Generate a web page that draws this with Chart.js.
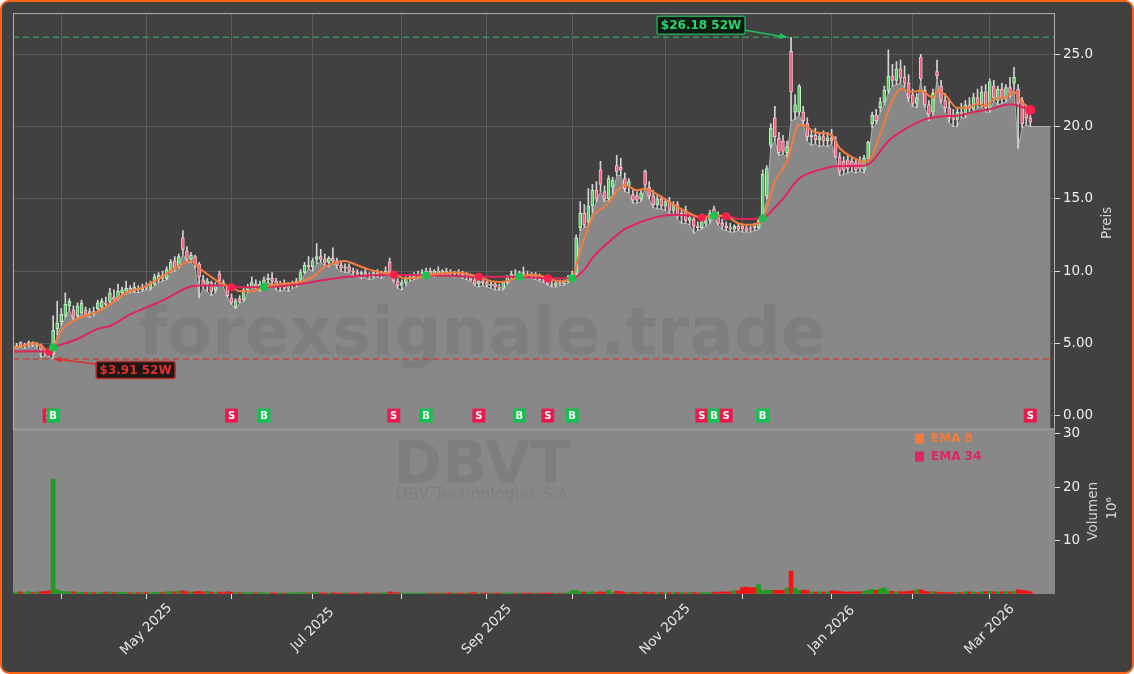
<!DOCTYPE html>
<html><head><meta charset="utf-8">
<script src="https://cdn.jsdelivr.net/npm/chart.js@4.4.1/dist/chart.umd.min.js"></script>
<style>
html,body{margin:0;padding:0;background:#ffffff;}
#wrap{position:absolute;left:0;top:0;width:1134px;height:674px;box-sizing:border-box;border:2px solid #fa6412;border-radius:9px;background:#414141;overflow:hidden;}
#c{position:absolute;left:0;top:0;width:1130px;height:670px;}
</style></head><body>
<div id="wrap"><canvas id="c" width="1130" height="670"></canvas></div>
<script>
// ---- data (trading-day index 0 = mid March 2025) ----
const open = [4.70,4.75,5.05,4.80,4.85,5.05,4.85,4.90,4.55,4.35,
4.25,6.00,6.50,6.90,7.60,7.30,6.90,7.10,7.30,7.00,
7.20,7.40,7.50,7.80,7.90,8.20,8.10,8.50,8.60,8.80,
8.60,8.80,8.70,8.90,8.80,9.10,9.40,9.70,9.50,10.00,
10.70,10.30,12.30,11.40,10.80,11.00,10.50,9.40,9.10,9.20,
8.70,9.80,9.20,8.90,8.15,7.50,8.10,8.00,8.70,8.85,
9.10,8.90,9.10,9.40,9.50,9.30,8.90,9.10,8.80,9.00,
9.10,9.30,9.90,10.40,10.30,10.80,11.00,10.80,10.60,10.90,
10.70,10.40,10.20,10.30,10.00,9.90,9.80,9.90,9.70,9.60,
9.90,9.70,9.80,10.60,9.90,9.30,9.00,9.20,9.50,9.60,
9.70,9.80,9.80,10.00,9.80,10.00,9.90,10.00,9.90,9.80,
9.90,9.80,9.60,9.70,9.40,9.10,9.30,9.20,9.00,9.10,
8.90,8.80,9.20,9.60,9.80,9.70,9.90,9.80,9.70,9.60,
9.70,9.40,9.30,9.10,9.00,9.20,9.10,9.30,9.60,9.80,
13.00,14.00,13.40,14.50,15.60,17.00,15.50,15.00,15.80,17.30,
17.20,16.40,15.90,15.30,15.20,15.00,16.90,15.80,15.20,14.60,
15.00,14.50,14.80,14.20,14.60,13.80,14.20,13.50,13.60,13.10,
13.00,13.30,13.50,14.30,13.90,13.30,13.10,13.00,12.90,13.10,
13.10,13.00,13.00,13.10,13.00,13.60,15.20,18.70,20.60,19.20,
19.00,18.20,25.20,21.00,21.00,21.00,20.20,19.30,19.40,19.10,
19.30,19.00,19.20,19.00,17.90,17.60,17.70,17.60,17.50,17.60,
17.00,17.80,20.20,20.80,21.30,21.70,22.50,23.50,23.20,24.00,
23.40,23.00,22.20,21.60,24.80,22.50,21.50,21.00,23.80,22.80,
21.80,21.30,20.60,20.50,21.00,20.90,21.50,21.20,22.00,21.60,
22.40,21.10,22.80,21.80,22.60,21.90,22.70,23.00,22.60,21.80,
21.20,20.60];
const high = [4.85,5.00,5.10,5.00,5.15,5.10,5.05,4.95,4.60,4.45,
6.90,7.90,7.40,8.50,8.10,7.60,7.80,8.00,7.50,7.40,
7.50,8.00,8.10,8.20,8.80,8.70,9.10,8.90,9.30,9.00,
9.20,9.00,9.10,9.20,9.30,9.80,9.90,10.00,10.30,10.80,
11.00,11.20,12.80,11.70,11.30,11.10,10.60,9.70,9.50,9.30,
9.20,10.00,9.40,9.00,8.40,8.10,8.30,8.90,9.10,9.60,
9.40,9.30,9.60,9.80,9.90,9.50,9.30,9.40,9.20,9.30,
9.50,10.10,10.60,11.00,10.90,11.90,11.50,11.20,11.00,11.60,
10.90,10.70,10.50,10.50,10.20,10.10,10.00,10.20,9.90,10.00,
10.10,10.00,10.30,10.90,10.00,9.50,9.40,9.60,9.80,9.90,
10.00,10.10,10.20,10.20,10.10,10.30,10.10,10.20,10.10,10.00,
10.10,10.00,9.90,9.80,9.60,9.40,9.50,9.40,9.30,9.20,
9.10,9.30,9.70,10.00,10.10,10.00,10.30,10.00,9.90,9.90,
9.80,9.60,9.50,9.30,9.30,9.40,9.40,9.70,10.00,12.50,
14.80,14.60,15.70,16.00,16.20,17.60,15.90,16.60,16.50,18.00,
17.80,16.80,16.40,15.60,15.50,15.60,17.00,16.20,15.60,15.30,
15.20,15.00,15.10,14.80,14.80,14.20,14.50,14.00,13.80,13.40,
13.50,13.70,14.20,14.50,14.10,13.60,13.40,13.30,13.20,13.30,
13.20,13.20,13.10,13.30,13.60,17.00,17.30,20.20,21.40,19.60,
19.40,19.00,26.18,22.20,22.90,21.40,20.60,19.80,19.90,19.60,
19.70,19.60,19.80,19.30,18.20,17.90,18.00,17.90,17.80,17.90,
18.00,19.00,21.00,21.20,22.00,22.80,25.30,24.30,24.50,24.60,
24.20,23.60,22.60,22.30,25.00,22.80,21.80,22.60,24.60,23.20,
22.30,21.90,21.20,21.30,21.60,21.80,22.00,22.30,22.60,22.80,
22.90,23.30,23.20,22.80,23.00,22.90,23.40,24.10,22.90,22.00,
21.50,20.80];
const low = [4.62,4.68,4.70,4.65,4.75,4.78,4.72,4.05,4.15,4.10,
3.91,5.60,6.20,6.80,7.30,6.60,6.80,7.00,6.90,6.80,
6.90,7.30,7.40,7.50,7.80,7.90,8.00,8.30,8.40,8.50,
8.50,8.50,8.60,8.70,8.70,9.00,9.20,9.30,9.40,9.90,
10.00,10.20,11.20,10.60,10.60,10.20,8.15,8.80,8.60,8.30,
8.50,9.10,8.90,8.20,7.70,7.40,7.80,7.90,8.50,8.80,
8.80,8.60,9.00,9.20,9.10,8.70,8.60,8.70,8.60,8.80,
8.90,9.20,9.80,10.10,10.00,10.50,10.60,10.40,10.30,10.60,
10.20,10.00,9.90,9.90,9.70,9.60,9.50,9.60,9.40,9.50,
9.60,9.50,9.70,9.80,9.20,8.80,8.70,9.00,9.30,9.40,
9.50,9.60,9.60,9.70,9.60,9.80,9.70,9.80,9.70,9.60,
9.70,9.50,9.40,9.30,9.00,8.90,9.00,8.90,8.80,8.70,
8.70,8.70,9.10,9.40,9.50,9.50,9.70,9.60,9.50,9.40,
9.30,9.20,9.00,8.90,8.90,9.00,9.00,9.20,9.40,9.70,
12.80,13.00,13.20,14.00,14.80,15.50,14.80,14.90,15.30,16.60,
16.60,15.50,15.40,14.70,14.70,14.80,15.80,15.00,14.40,14.30,
14.30,14.20,14.00,13.90,13.60,13.30,13.30,13.20,12.60,12.80,
12.90,13.10,13.30,13.70,13.20,12.90,12.80,12.70,12.70,12.80,
12.70,12.70,12.70,12.80,12.90,13.50,15.00,18.50,19.00,18.00,
18.10,17.90,20.40,20.50,20.80,20.20,19.00,18.70,18.80,18.60,
18.70,18.60,18.80,17.80,16.60,16.70,16.80,16.90,16.80,16.90,
16.80,17.60,19.90,20.20,21.00,21.50,22.30,22.80,22.90,23.00,
22.70,21.70,21.40,21.30,23.20,21.30,20.40,20.80,23.30,21.60,
21.00,20.30,20.00,20.00,20.60,20.60,21.00,21.00,21.30,21.40,
21.00,21.00,21.80,21.50,21.60,21.70,22.00,22.60,18.50,19.90,
20.10,20.00];
const close = [4.75,4.85,4.80,4.90,5.05,4.85,4.95,4.55,4.30,4.20,
5.90,6.40,7.00,7.70,7.90,6.80,7.60,7.80,7.00,7.20,
7.10,7.80,7.90,7.70,8.50,8.00,8.60,8.70,8.80,8.60,
8.90,8.70,8.90,8.80,9.10,9.60,9.70,9.50,10.10,10.60,
10.20,11.00,11.50,10.80,11.10,10.50,9.60,9.00,9.30,8.60,
9.00,9.30,9.00,8.30,7.80,7.95,7.90,8.70,8.90,9.20,
8.90,9.10,9.40,9.50,9.30,8.90,9.10,8.80,9.00,9.10,
9.30,9.90,10.40,10.30,10.70,11.00,10.80,10.60,10.90,10.70,
10.40,10.20,10.30,10.00,9.90,9.80,9.90,9.70,9.60,9.90,
9.70,9.80,10.00,9.90,9.30,9.00,9.20,9.50,9.60,9.70,
9.80,9.90,10.00,9.80,10.00,9.90,10.00,9.90,9.80,9.90,
9.80,9.60,9.70,9.40,9.10,9.30,9.20,9.00,9.10,8.90,
8.80,9.20,9.60,9.80,9.70,9.90,9.80,9.70,9.60,9.70,
9.40,9.30,9.10,9.00,9.20,9.10,9.30,9.60,9.80,12.30,
14.00,13.20,14.50,15.60,15.00,16.00,15.00,16.40,16.30,16.90,
17.00,15.70,16.20,14.90,14.90,15.40,16.00,15.20,14.60,15.00,
14.50,14.80,14.20,14.60,13.80,14.00,13.50,13.70,13.10,13.00,
13.40,13.50,14.00,13.90,13.30,13.10,13.00,12.90,13.10,12.90,
12.90,12.80,12.90,13.00,13.50,16.70,17.10,19.90,19.30,18.20,
18.30,18.60,22.40,21.50,22.80,20.40,19.30,19.40,19.10,19.30,
19.00,19.20,19.00,17.90,16.90,17.00,17.10,17.20,17.00,17.10,
17.80,18.90,20.80,20.40,21.70,22.50,23.50,23.20,24.00,23.40,
23.00,22.00,21.60,22.00,23.30,21.50,20.80,22.30,23.50,21.80,
21.30,20.60,20.50,21.00,20.90,21.50,21.20,22.00,21.60,22.40,
21.30,23.10,22.00,22.60,21.90,22.70,22.30,23.40,21.60,20.20,
20.60,20.30];
const volume = [0.25,0.2,0.3,0.2,0.35,0.2,0.25,0.3,0.4,0.5,
21.5,0.7,0.4,0.35,0.25,0.3,0.2,0.25,0.2,0.15,
0.2,0.15,0.2,0.25,0.3,0.2,0.25,0.2,0.2,0.15,
0.15,0.2,0.15,0.2,0.15,0.25,0.2,0.2,0.3,0.35,
0.3,0.45,0.5,0.3,0.25,0.3,0.4,0.3,0.45,0.25,
0.2,0.25,0.2,0.3,0.25,0.2,0.15,0.2,0.15,0.2,
0.15,0.2,0.15,0.1,0.15,0.1,0.15,0.1,0.1,0.15,
0.15,0.2,0.2,0.15,0.2,0.25,0.15,0.15,0.1,0.15,
0.1,0.1,0.15,0.1,0.1,0.1,0.1,0.15,0.1,0.1,
0.1,0.15,0.2,0.3,0.2,0.15,0.1,0.1,0.1,0.1,
0.1,0.1,0.1,0.1,0.1,0.1,0.1,0.1,0.15,0.1,
0.1,0.1,0.1,0.15,0.2,0.1,0.1,0.1,0.1,0.1,
0.1,0.1,0.15,0.1,0.1,0.1,0.1,0.1,0.1,0.1,
0.1,0.1,0.1,0.1,0.1,0.1,0.1,0.15,0.5,0.6,
0.3,0.25,0.2,0.3,0.2,0.3,0.25,0.6,0.2,0.4,
0.35,0.2,0.2,0.2,0.15,0.2,0.25,0.15,0.2,0.15,
0.2,0.15,0.2,0.15,0.2,0.2,0.15,0.2,0.2,0.15,
0.2,0.15,0.2,0.25,0.2,0.3,0.25,0.3,0.5,0.5,
1.1,1.2,1.1,1.1,1.7,0.5,0.65,0.6,0.6,0.6,
0.6,1.0,4.2,1.0,0.6,0.65,0.6,0.3,0.25,0.3,
0.25,0.3,0.5,0.5,0.4,0.3,0.25,0.3,0.3,0.35,
0.4,0.6,0.8,0.6,0.9,1.05,0.5,0.4,0.3,0.35,
0.3,0.4,0.5,0.7,0.7,0.4,0.3,0.3,0.25,0.2,
0.2,0.2,0.2,0.25,0.2,0.3,0.3,0.25,0.2,0.3,
0.35,0.4,0.3,0.25,0.3,0.35,0.3,0.4,0.7,0.6,
0.5,0.3];
const ema8Idx = [0,3,5,7,9,10,11,12,16,21,24,28,32,35,39,42,44,46,49,51,54,56,59,62,66,70,74,77,80,82,85,88,91,94,97,100,102,106,110,113,115,118,121,123,125,128,130,132,135,138,140,143,147,149,151,154,156,159,163,167,170,173,176,179,182,185,188,191,194,195,198,202,204,207,210,212,215,217,219,222,224,227,228,230,233,236,238,240,242,245,247,249,251];
const ema8Val = [4.70,4.85,5.00,4.85,4.42,4.75,5.30,5.85,6.70,7.20,7.70,8.50,8.84,9.30,10.00,10.50,10.70,10.20,9.60,9.20,8.88,8.60,8.60,8.90,9.10,9.20,9.60,10.30,10.60,10.70,10.40,10.10,9.90,9.75,9.50,9.55,9.72,9.85,9.90,9.75,9.60,9.30,9.25,9.40,9.60,9.75,9.70,9.50,9.30,9.50,11.40,13.70,14.70,15.50,15.95,15.60,15.70,15.30,14.60,14.00,13.70,13.85,13.80,13.30,13.20,13.65,16.20,17.60,20.10,20.10,19.60,19.40,18.50,17.90,17.55,18.00,20.30,21.80,22.60,22.40,22.50,22.00,22.50,22.20,21.30,21.30,21.60,21.40,21.90,22.00,22.40,21.70,21.15];
const ema34Idx = [0,5,9,10,13,16,21,24,29,34,38,43,46,52,54,58,62,66,71,76,83,94,102,108,115,125,132,138,141,143,147,151,155,159,163,167,170,173,176,180,185,188,190,194,199,203,210,212,216,220,225,229,233,237,241,246,251];
const ema34Val = [4.43,4.45,4.42,4.70,5.00,5.30,6.00,6.20,7.00,7.60,8.10,8.85,9.00,9.00,8.88,8.88,8.90,8.95,9.10,9.35,9.60,9.75,9.70,9.68,9.60,9.60,9.50,9.50,10.10,10.90,12.00,12.90,13.40,13.75,13.90,13.85,13.70,13.85,13.80,13.60,13.65,14.40,15.00,16.40,17.00,17.25,17.30,17.60,19.00,19.80,20.50,20.70,20.75,21.00,21.20,21.55,21.15];
const sigIdx  = [9,10,54,62,94,102,115,125,132,138,170,173,176,185,251];
const sigType = ['S','B','S','B','S','B','S','B','S','B','S','B','S','B','S'];
const sigVal  = [4.42,4.72,8.88,8.90,9.75,9.70,9.60,9.60,9.50,9.50,13.70,13.85,13.80,13.65,21.15];
const hi52 = 26.18, hi52Idx = 192;
const lo52 = 3.91, lo52Idx = 10;
const areaEndIdx = 256;
const monthTickIdx = [12,33,54,74,96,117,138,161,180,202,222,241];
const labelIdx  = [33,74,117,161,202,241];
const labelText = ['May 2025','Jul 2025','Sep 2025','Nov 2025','Jan 2026','Mar 2026'];
const priceTicks = [0,5,10,15,20,25];
const volTicks = [10,20,30];
const watermarkText = 'forexsignale.trade';
const tickerText = 'DBVT';
const companyText = 'DBV Technologies S.A';
const legendItems = [['EMA 8','#f47b3b'],['EMA 34','#e0245e']];

// ---- build ----
const idx = close.map((_, i) => i);
const isUp = i => close[i] >= open[i];
const areaData = idx.map(i => ({x: i, y: low[i]})).concat([{x: areaEndIdx, y: low[low.length - 1]}]);
const FONT = '"DejaVu Sans", sans-serif';
const fmtPrice = v => v === 0 ? '0.00' : (v < 10 ? v.toFixed(2) : v.toFixed(1));

function arrow(ctx, x1, y1, x2, y2, color) {
  const ang = Math.atan2(y2 - y1, x2 - x1), hl = 8;
  ctx.strokeStyle = color; ctx.fillStyle = color; ctx.lineWidth = 1.5;
  ctx.beginPath(); ctx.moveTo(x1, y1); ctx.lineTo(x2 - Math.cos(ang) * hl * 0.8, y2 - Math.sin(ang) * hl * 0.8); ctx.stroke();
  ctx.beginPath(); ctx.moveTo(x2, y2);
  ctx.lineTo(x2 - hl * Math.cos(ang - 0.4), y2 - hl * Math.sin(ang - 0.4));
  ctx.lineTo(x2 - hl * Math.cos(ang + 0.4), y2 - hl * Math.sin(ang + 0.4));
  ctx.closePath(); ctx.fill();
}
function labelBox(ctx, text, x, yc, w, h, bg, border, fg) {
  ctx.beginPath(); ctx.roundRect(x, yc - h / 2, w, h, 2);
  ctx.fillStyle = bg; ctx.fill();
  ctx.lineWidth = 1.5; ctx.strokeStyle = border; ctx.stroke();
  ctx.fillStyle = fg; ctx.font = 'bold 12px ' + FONT;
  ctx.textAlign = 'center'; ctx.textBaseline = 'middle';
  ctx.fillText(text, x + w / 2, yc + 1);
}

const deco = {
  id: 'deco',
  beforeDatasetsDraw(chart) {
    const {ctx, chartArea: a, scales: {yv}} = chart;
    ctx.save();
    ctx.fillStyle = '#888888';
    ctx.fillRect(a.left, yv.top, a.right - a.left, yv.bottom - yv.top);
    ctx.fillStyle = 'rgba(0,0,0,0.065)';
    ctx.textAlign = 'center'; ctx.textBaseline = 'alphabetic';
    ctx.font = 'bold 59px ' + FONT;
    ctx.fillText(tickerText, a.left + 469, yv.top + 54);
    ctx.font = '16px ' + FONT;
    ctx.fillText(companyText, a.left + 469, yv.top + 70);
    ctx.restore();
  },
  afterDatasetDraw(chart, args) {
    if (args.index !== 0) return;
    const {ctx, chartArea: a, scales: {y}} = chart;
    ctx.save();
    ctx.beginPath(); ctx.rect(a.left, y.top, a.right - a.left, y.bottom - y.top); ctx.clip();
    ctx.fillStyle = 'rgba(0,0,0,0.065)';
    ctx.font = 'bold 66px ' + FONT;
    ctx.textAlign = 'center'; ctx.textBaseline = 'alphabetic';
    ctx.fillText(watermarkText, a.left + 469, y.top + 341);
    ctx.restore();
  },
  afterDatasetsDraw(chart) {
    const {ctx, chartArea: a, scales: {x, y, yv}} = chart;
    ctx.save();
    // 52W lines
    ctx.setLineDash([6, 4]); ctx.lineWidth = 1.5;
    ctx.strokeStyle = 'rgba(46,190,105,0.65)';
    let yy = y.getPixelForValue(hi52);
    ctx.beginPath(); ctx.moveTo(a.left, yy); ctx.lineTo(a.right, yy); ctx.stroke();
    ctx.strokeStyle = 'rgba(215,55,45,0.8)';
    yy = y.getPixelForValue(lo52);
    ctx.beginPath(); ctx.moveTo(a.left, yy); ctx.lineTo(a.right, yy); ctx.stroke();
    ctx.setLineDash([]);
    // panel frame
    ctx.strokeStyle = '#b0b0b0'; ctx.lineWidth = 1;
    ctx.strokeRect(a.left + 0.5, y.top + 0.5, a.right - a.left - 1, y.bottom - y.top);
    ctx.strokeStyle = '#9a9a9a'; ctx.lineWidth = 2;
    ctx.beginPath(); ctx.moveTo(a.left, y.bottom + 1); ctx.lineTo(a.right, y.bottom + 1); ctx.stroke();
    // B/S markers
    const y0 = y.getPixelForValue(0);
    sigIdx.forEach((si, k) => {
      const px = x.getPixelForValue(si);
      ctx.fillStyle = sigType[k] === 'B' ? '#12c24f' : '#ea1a4c';
      ctx.fillRect(px - 6.5, y0 - 7, 13, 14);
      ctx.fillStyle = '#ffffff'; ctx.font = 'bold 10px ' + FONT;
      ctx.textAlign = 'center'; ctx.textBaseline = 'middle';
      ctx.fillText(sigType[k], px, y0 + 0.5);
    });
    // 52W annotations
    const hx = x.getPixelForValue(hi52Idx) - 4, hy = y.getPixelForValue(hi52);
    arrow(ctx, hx - 42, hy - 7, hx, hy, '#25c060');
    labelBox(ctx, '$' + hi52.toFixed(2) + ' 52W', hx - 130, hy - 12, 88, 18, '#0c1c12', '#22a355', '#2bd16c');
    const lx = x.getPixelForValue(lo52Idx) + 1, ly = y.getPixelForValue(lo52);
    arrow(ctx, lx + 42, ly + 5, lx, ly, '#e0302a');
    labelBox(ctx, '$' + lo52.toFixed(2) + ' 52W', lx + 42, ly + 11, 79, 17, '#1e1717', '#b8302a', '#e2302a');
    // legend
    legendItems.forEach(([t, c], k) => {
      const ly2 = yv.top + 10 + k * 18;
      ctx.fillStyle = c; ctx.fillRect(a.right - 140, ly2 - 5, 9, 10);
      ctx.font = 'bold 12px ' + FONT; ctx.textAlign = 'left'; ctx.textBaseline = 'middle';
      ctx.fillText(t, a.right - 124, ly2);
    });
    ctx.restore();
  },
  afterDraw(chart) {
    const {ctx, chartArea: a, scales: {x, y, yv}} = chart;
    ctx.save();
    ctx.fillStyle = '#e6e6e6'; ctx.font = '13.5px ' + FONT;
    ctx.textAlign = 'center'; ctx.textBaseline = 'middle';
    labelIdx.forEach((li, k) => {
      ctx.save();
      ctx.translate(x.getPixelForValue(li), a.bottom + 35.5);
      ctx.rotate(-Math.PI / 4);
      ctx.fillText(labelText[k], 0, 0);
      ctx.restore();
    });
    ctx.fillStyle = '#d2d2d2';
    const title = (t, px, py) => { ctx.save(); ctx.translate(px, py); ctx.rotate(-Math.PI / 2); ctx.fillText(t, 0, 0); ctx.restore(); };
    title('Preis', y.left + 52, (y.top + y.bottom) / 2 + 2);
    title('Volumen', yv.left + 38, (yv.top + yv.bottom) / 2);
    title('10\u2076', yv.left + 57, (yv.top + yv.bottom) / 2 - 3);
    ctx.restore();
  }
};

new Chart(document.getElementById('c'), {
  type: 'bar',
  data: {datasets: [
    {type: 'line', label: 'Tief', data: areaData, yAxisID: 'y', borderColor: '#b0b0b0', borderWidth: 1,
     backgroundColor: '#888888', fill: 'start', pointRadius: 0, tension: 0, order: 20},
    {type: 'bar', label: 'Volumen', data: idx.map(i => ({x: i, y: volume[i]})), yAxisID: 'yv',
     backgroundColor: idx.map(i => isUp(i) ? '#209a20' : '#f21414'), barThickness: 4, grouped: false, order: 19},
    {type: 'bar', label: 'Docht', data: idx.map(i => ({x: i, y: [low[i], high[i]]})), yAxisID: 'y',
     backgroundColor: '#d4d4d4', barThickness: 1, grouped: false, order: 18},
    {type: 'bar', label: 'Kerze', data: idx.map(i => ({x: i, y: [open[i], close[i]]})), yAxisID: 'y',
     backgroundColor: idx.map(i => isUp(i) ? '#5ccc66' : '#ee5c7c'),
     borderColor: idx.map(i => isUp(i) ? '#c4f2c8' : '#ffc0ce'),
     borderWidth: 1, borderSkipped: false, barThickness: 3, minBarLength: 1, grouped: false, order: 17},
    {type: 'line', label: 'EMA 34', data: ema34Idx.map((v, k) => ({x: v, y: ema34Val[k]})), yAxisID: 'y',
     borderColor: '#e0245e', borderWidth: 2, pointRadius: 0, cubicInterpolationMode: 'monotone', fill: false, order: 16},
    {type: 'line', label: 'EMA 8', data: ema8Idx.map((v, k) => ({x: v, y: ema8Val[k]})), yAxisID: 'y',
     borderColor: '#f47b3b', borderWidth: 2, pointRadius: 0, cubicInterpolationMode: 'monotone', fill: false, order: 15},
    {type: 'line', label: 'Signal', data: sigIdx.map((v, k) => ({x: v, y: sigVal[k]})), yAxisID: 'y', showLine: false,
     pointRadius: sigIdx.map((v, k) => k === sigIdx.length - 1 ? 5 : 4),
     pointBackgroundColor: sigType.map(t => t === 'B' ? '#18c24c' : '#ff1f4b'), pointBorderWidth: 0, order: 14}
  ]},
  options: {
    responsive: false, animation: false, devicePixelRatio: 1,
    layout: {padding: {left: 11, top: 9, right: 0, bottom: 0}},
    plugins: {legend: {display: false}, tooltip: {enabled: false}},
    scales: {
      x: {type: 'linear', position: 'bottom', min: 0.1, max: 257.1, offset: false,
          grid: {color: '#5b5b5b', lineWidth: 1, offset: false, drawTicks: true, tickLength: 5, tickColor: '#dddddd'},
          border: {display: false}, ticks: {display: false},
          afterBuildTicks: s => { s.ticks = monthTickIdx.map(v => ({value: v})); },
          afterFit: s => { s.height = 78; }},
      y: {type: 'linear', position: 'right', stack: 'panels', stackWeight: 417, min: -0.9, max: 27.85,
          grid: {color: '#5b5b5b', tickLength: 5, tickColor: '#dddddd'}, border: {display: false},
          ticks: {color: '#eeeeee', font: {family: 'DejaVu Sans', size: 13.5}, padding: 3, callback: v => fmtPrice(v)},
          afterBuildTicks: s => { s.ticks = priceTicks.map(v => ({value: v})); },
          afterFit: s => { s.width = 77; }},
      yv: {type: 'linear', position: 'right', stack: 'panels', stackWeight: 166, min: -0.09, max: 31.0,
          grid: {drawOnChartArea: false, tickLength: 5, tickColor: '#dddddd'}, border: {display: false},
          ticks: {color: '#eeeeee', font: {family: 'DejaVu Sans', size: 13.5}, padding: 3},
          afterBuildTicks: s => { s.ticks = volTicks.map(v => ({value: v})); },
          afterFit: s => { s.width = 77; }}
    }
  },
  plugins: [deco]
});
</script></body></html>
